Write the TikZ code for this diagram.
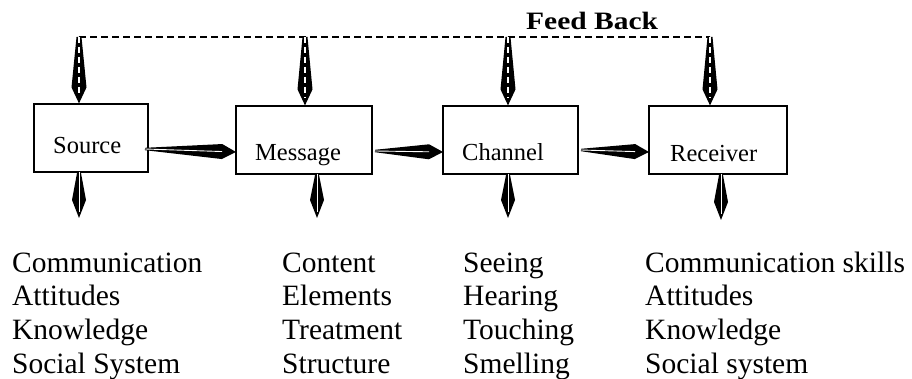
\documentclass[tikz,border=0pt]{standalone}
\usepackage{fontspec}
\usepackage{graphicx}
\setmainfont{Liberation Serif}
\usetikzlibrary{calc}
\newcommand{\kitearrow}[7]{%
  % #1 from, #2 to, #3 half start width, #4 half max width,
  % #5 distance tip->widest, #6 distance tip->end of inner line, #7 inner style
  \coordinate (kM) at ($(#2)!#5!(#1)$);
  \fill[black] ($(#1)!#3!90:(#2)$) -- ($(kM)!#4!90:(#2)$) -- (#2)
     -- ($(kM)!#4!-90:(#2)$) -- ($(#1)!#3!-90:(#2)$) -- cycle;
  \draw[#7] (#1) -- ($(#2)!#6!(#1)$);
}
\begin{document}
\begin{tikzpicture}[x=1pt,y=-1pt,
  box/.style={draw=black,line width=1.2pt,inner sep=0pt,minimum height=68pt},
  lbl/.style={inner sep=0pt,anchor=base west,font=\fontsize{24.5}{29}\selectfont},
  lst/.style={inner sep=0pt,anchor=base west,font=\fontsize{29.5}{34}\selectfont},
  innerdash/.style={white,line width=1.2pt,dash pattern=on 6pt off 4pt},
  innersolid/.style={white,line width=0.9pt}]
\useasboundingbox (0,0) rectangle (912,379);
\fill[white] (0,0) rectangle (912,379);

% boxes
\node[box,minimum width=114pt] (src) at (91,138) {};
\node[box,minimum width=136pt] (msg) at (304,140) {};
\node[box,minimum width=135pt] (chn) at (510.5,140) {};
\node[box,minimum width=138pt] (rcv) at (718,140) {};

\node[lbl] (srcT) at (53,154) {Source};
\node[lbl] (msgT) at (255,161) {Message};
\node[lbl] (chnT) at (462,161) {Channel};
\node[lbl] (rcvT) at (670,162) {Receiver};

% feedback line
\coordinate (fb1) at (79,37);
\coordinate (fb2) at (305,37);
\coordinate (fb3) at (508,37);
\coordinate (fb4) at (710,37);
\draw[line width=1.3pt,dash pattern=on 6.5pt off 4.5pt] (fb1) -- (fb4);
\node[inner sep=0pt,anchor=base west] (fbT) at (526,29.3)
  {\scalebox{1.18}[1]{\fontsize{25}{30}\selectfont\bfseries Feed Back}};

% top arrows
\foreach \f/\b in {fb1/src,fb2/msg,fb3/chn,fb4/rcv}{
  \coordinate (t\b) at (\f |- \b.north);
  \kitearrow{\f}{t\b}{2.5pt}{7.5pt}{16pt}{8pt}{innerdash}
}

% bottom arrows
\coordinate (b1s) at (79,172);  \coordinate (b1e) at (79,218);
\coordinate (b2s) at (317,174); \coordinate (b2e) at (317,218);
\coordinate (b3s) at (508,174); \coordinate (b3e) at (508,218);
\coordinate (b4s) at (721,174); \coordinate (b4e) at (721,220);
\foreach \i in {1,2,3,4}{
  \kitearrow{b\i s}{b\i e}{1.8pt}{7pt}{18pt}{6pt}{innersolid}
}

% horizontal arrows
\coordinate (h1s) at (145,149); \coordinate (h1e) at (236,152);
\coordinate (h2s) at (375,151); \coordinate (h2e) at (443,152);
\coordinate (h3s) at (581,150); \coordinate (h3e) at (649,152);
\foreach \i in {1,2,3}{
  \kitearrow{h\i s}{h\i e}{1.2pt}{7.5pt}{14pt}{14pt}{innersolid}
}

% lists
\foreach \t [count=\i] in {Communication, Attitudes, Knowledge, Social System}
  \node[lst] (la\i) at (12,{272+33.7*(\i-1)}) {\t};
\foreach \t [count=\i] in {Content, Elements, Treatment, Structure}
  \node[lst] (lb\i) at (282,{272+33.7*(\i-1)}) {\t};
\foreach \t [count=\i] in {Seeing, Hearing, Touching, Smelling}
  \node[lst] (lc\i) at (463,{272+33.7*(\i-1)}) {\t};
\foreach \t [count=\i] in {Communication skills, Attitudes, Knowledge, Social system}
  \node[lst] (ld\i) at (645,{272+33.7*(\i-1)}) {\t};
\end{tikzpicture}
\end{document}
